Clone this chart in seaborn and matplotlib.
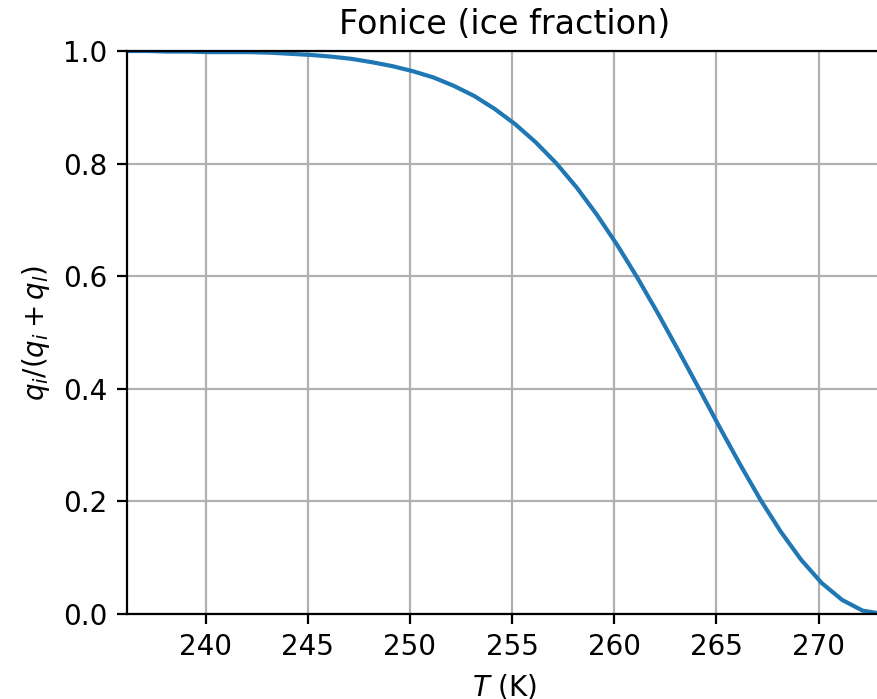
import numpy as np
import pandas as pd
import seaborn as sns
import matplotlib
matplotlib.use("Agg")
from matplotlib import pyplot as plt

# temperature nodes (K), -37 C .. 0 C
temps = [236.15, 237.15, 238.15, 239.15, 240.15, 241.15, 242.15, 243.15,
         244.15, 245.15, 246.15, 247.15, 248.15, 249.15, 250.15, 251.15,
         252.15, 253.15, 254.15, 255.15, 256.15, 257.15, 258.15, 259.15,
         260.15, 261.15, 262.15, 263.15, 264.15, 265.15, 266.15, 267.15,
         268.15, 269.15, 270.15, 271.15, 272.15, 273.15]
# ice fraction
fonice = [1.000, 1.000, 0.999, 0.999, 0.998, 0.998, 0.998, 0.997,
          0.995, 0.993, 0.990, 0.986, 0.980, 0.973, 0.964, 0.953,
          0.938, 0.920, 0.897, 0.870, 0.838, 0.801, 0.758, 0.709,
          0.655, 0.596, 0.533, 0.467, 0.400, 0.332, 0.266, 0.203,
          0.146, 0.096, 0.055, 0.025, 0.006, 0.000]

df = pd.DataFrame({"T": temps, "fonice": fonice})

DPI = 200
fig = plt.figure(figsize=(878 / DPI, 699 / DPI), dpi=DPI)
ax = fig.add_axes([127 / 878, 85 / 699, 756 / 878, 563 / 699])

sns.lineplot(data=df, x="T", y="fonice", color="#1f77b4", linewidth=1.5, ax=ax)

ax.set_xlim(236.15, 273.15)
ax.set_ylim(0, 1)
ax.set_xticks([240, 245, 250, 255, 260, 265, 270])
ax.set_yticks([0.0, 0.2, 0.4, 0.6, 0.8, 1.0])
ax.grid(True, color="#b0b0b0", linewidth=0.8)
ax.set_axisbelow(True)
ax.spines["right"].set_visible(False)

ax.set_title("Fonice (ice fraction)", fontsize=12)
ax.set_xlabel("$T$ (K)")
ax.set_ylabel("$q_i/(q_i+q_l)$")

fig.savefig("out.png", dpi=DPI)
